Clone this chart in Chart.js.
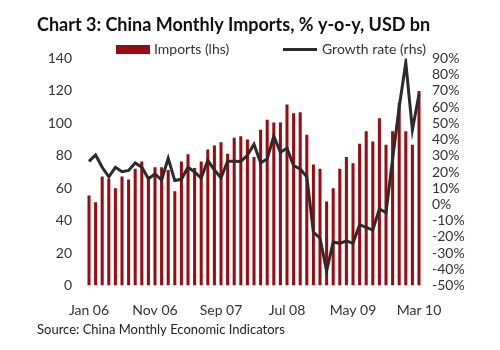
<!DOCTYPE html>
<html>
<head>
<meta charset="utf-8">
<script src="https://cdn.jsdelivr.net/npm/chart.js@4"></script>
<style>
  html, body { margin: 0; padding: 0; background: #fff; }
  #wrap { width: 500px; height: 350px; position: relative; }
</style>
</head>
<body>
<div id="wrap"><canvas id="importsChart"></canvas></div>
<script>
// Month categories, Jan 06 - Mar 10
const months = [
    'Jan 06','Feb 06','Mar 06','Apr 06','May 06','Jun 06','Jul 06','Aug 06','Sep 06','Oct 06','Nov 06','Dec 06',
    'Jan 07','Feb 07','Mar 07','Apr 07','May 07','Jun 07','Jul 07','Aug 07','Sep 07','Oct 07','Nov 07','Dec 07',
    'Jan 08','Feb 08','Mar 08','Apr 08','May 08','Jun 08','Jul 08','Aug 08','Sep 08','Oct 08','Nov 08','Dec 08',
    'Jan 09','Feb 09','Mar 09','Apr 09','May 09','Jun 09','Jul 09','Aug 09','Sep 09','Oct 09','Nov 09','Dec 09',
    'Jan 10','Feb 10','Mar 10'
];
const shownMonths = ['Jan 06', 'Nov 06', 'Sep 07', 'Jul 08', 'May 09', 'Mar 10'];

// Imports, USD bn (lhs)
const imports = [
    55.5, 51.4, 67.2, 65.8, 60.0, 67.2, 65.4, 72.0, 76.5, 67.2, 73.0, 73.0,
    71.3, 58.2, 76.5, 81.0, 72.4, 76.5, 83.9, 86.4, 88.4, 81.2, 91.1, 92.1,
    90.0, 79.2, 96.0, 102.2, 100.6, 100.6, 111.7, 106.3, 106.9, 93.0, 74.6, 72.0,
    51.8, 60.0, 72.0, 79.2, 75.4, 87.4, 95.2, 88.8, 103.2, 86.8, 95.2, 112.5,
    95.2, 86.8, 119.9
];

// Growth rate, % y-o-y (rhs)
const growth = [
    26.6, 30.5, 22.9, 17.0, 22.9, 20.2, 21.0, 25.6, 23.0, 15.8, 18.8, 15.0,
    28.5, 14.7, 15.5, 22.9, 20.0, 16.2, 27.2, 21.2, 16.4, 26.6, 26.6, 26.5,
    30.3, 37.1, 25.7, 28.0, 42.1, 32.2, 34.7, 23.9, 21.9, 17.0, -17.0, -20.8,
    -41.0, -23.2, -24.0, -22.4, -24.0, -12.5, -14.1, -15.8, -2.7, -5.2, 28.0, 60.1,
    87.5, 46.0, 68.0
];

const BAR_RED = '#9c0a10';
const LINE_DARK = '#2b2b2b';
const FONT = "Lato, 'Open Sans', sans-serif";

Chart.defaults.font.family = FONT;
Chart.defaults.font.size = 14;
Chart.defaults.color = '#333';

// title, legend and source note drawn straight on the canvas
const decorations = {
    id: 'decorations',
    afterDraw(chart) {
        const ctx = chart.ctx;
        ctx.save();
        ctx.textBaseline = 'middle';
        ctx.textAlign = 'left';

        ctx.fillStyle = '#111';
        ctx.font = 'bold 18px ' + FONT;
        ctx.fillText('Chart 3: China Monthly Imports, % y-o-y, USD bn', 37, 25);

        // legend
        ctx.font = '14px ' + FONT;
        ctx.fillStyle = BAR_RED;
        ctx.fillRect(116, 45, 34, 9);
        ctx.fillStyle = '#333';
        ctx.fillText(chart.data.datasets[1].label, 154, 49);

        ctx.strokeStyle = LINE_DARK;
        ctx.lineWidth = 3;
        ctx.beginPath();
        ctx.moveTo(283, 49.5);
        ctx.lineTo(317, 49.5);
        ctx.stroke();
        ctx.fillText(chart.data.datasets[0].label, 322, 49);

        ctx.font = '13px ' + FONT;
        ctx.fillStyle = '#222';
        ctx.fillText('Source: China Monthly Economic Indicators', 37, 330);
        ctx.restore();
    }
};

const ctx = document.getElementById('importsChart').getContext('2d');
const importsChart = new Chart(ctx, {
    type: 'bar',
    data: {
        labels: months,
        datasets: [
            {
                type: 'line',
                label: 'Growth rate (rhs)',
                data: growth,
                yAxisID: 'y1',
                borderColor: LINE_DARK,
                borderWidth: 3,
                pointRadius: 0,
                tension: 0,
                fill: false,
                order: 0
            },
            {
                label: 'Imports (lhs)',
                data: imports,
                yAxisID: 'y',
                backgroundColor: BAR_RED,
                barPercentage: 0.46,
                categoryPercentage: 1,
                order: 1
            }
        ]
    },
    options: {
        responsive: true,
        maintainAspectRatio: false,
        animation: false,
        layout: { padding: { left: 0, right: 0, top: 58.5, bottom: 30.5 } },
        plugins: {
            legend: { display: false },
            title: { display: false },
            tooltip: { enabled: false }
        },
        scales: {
            x: {
                grid: { display: false, drawTicks: false },
                border: { display: false },
                ticks: {
                    autoSkip: false,
                    maxRotation: 0,
                    padding: 17,
                    callback: function (value) {
                        const lab = this.getLabelForValue(value);
                        return shownMonths.includes(lab) ? lab : '';
                    }
                },
                afterFit: (scale) => { scale.height = 34; }
            },
            y: {
                position: 'left',
                min: 0,
                max: 140,
                grid: { display: false, drawTicks: false },
                border: { display: false },
                ticks: { stepSize: 20, padding: 13.7, autoSkip: false },
                afterFit: (scale) => { scale.width = 85.7; }
            },
            y1: {
                position: 'right',
                min: -50,
                max: 90,
                grid: { display: false, drawTicks: false },
                border: { display: false },
                ticks: { stepSize: 10, padding: 9.7, autoSkip: false, callback: (v) => v + '%' },
                afterFit: (scale) => { scale.width = 77.7; }
            }
        }
    },
    plugins: [decorations]
});
</script>
</body>
</html>
